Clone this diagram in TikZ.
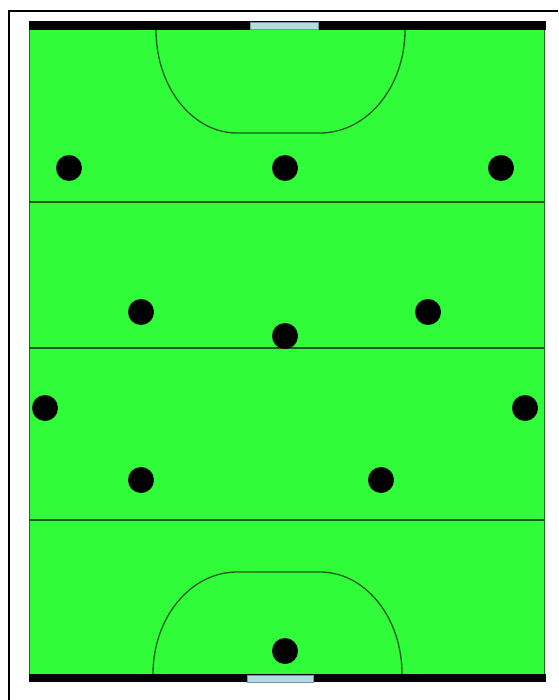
\documentclass[tikz,border=0pt]{standalone}
\definecolor{pitch}{RGB}{48,252,58}
\definecolor{pitchline}{RGB}{25,90,25}
\definecolor{pitchedge}{RGB}{30,110,30}
\definecolor{goalfill}{RGB}{180,218,228}
\definecolor{goaledge}{RGB}{120,150,160}
\begin{document}
\begin{tikzpicture}[x=1pt,y=-1pt,
  fieldline/.style={draw=pitchline,line width=1.3pt},
  player/.style={circle,fill=black,inner sep=0pt,minimum size=26pt},
  goalbox/.style={fill=goalfill,draw=goaledge,line width=0.4pt},
  endbar/.style={fill=black}]
\useasboundingbox (0,0) rectangle (558,700);
\fill[white] (0,0) rectangle (558,700);
% outer frame (cropped)
\draw[line width=2pt] (9,700) -- (9,11) -- (558,11);
% end bars
\fill[endbar] (29,21) rectangle (546,30);
\fill[endbar] (29,674) rectangle (546,682);
% field
\fill[pitch] (29,30) rectangle (545,674);
\draw[pitchedge,line width=1pt] (29.5,30) -- (29.5,674);
\draw[pitchedge,line width=1pt] (544.5,30) -- (544.5,674);
% goals
\filldraw[goalbox] (250,22) rectangle (318,29);
\filldraw[goalbox] (247,675) rectangle (313,682);
% quarter lines
\draw[fieldline] (29,202) -- (545,202);
\draw[fieldline] (29,348) -- (545,348);
\draw[fieldline] (29,520) -- (545,520);
% shooting circles
\draw[fieldline] (156,30) arc[start angle=180,end angle=90,x radius=81,y radius=103] -- (320,133) arc[start angle=90,end angle=0,x radius=85,y radius=103];
\draw[fieldline] (153,674) arc[start angle=180,end angle=270,x radius=84,y radius=102] -- (320,572) arc[start angle=270,end angle=360,x radius=82,y radius=102];
% players
\node[player] (p1) at (69,168) {};
\node[player] (p2) at (285,168) {};
\node[player] (p3) at (501,168) {};
\node[player] (p4) at (141,312) {};
\node[player] (p5) at (428,312) {};
\node[player] (p6) at (285,336) {};
\node[player] (p7) at (45,408) {};
\node[player] (p8) at (525,408) {};
\node[player] (p9) at (141,480) {};
\node[player] (p10) at (381,480) {};
\node[player] (p11) at (285,651) {};
\end{tikzpicture}
\end{document}
